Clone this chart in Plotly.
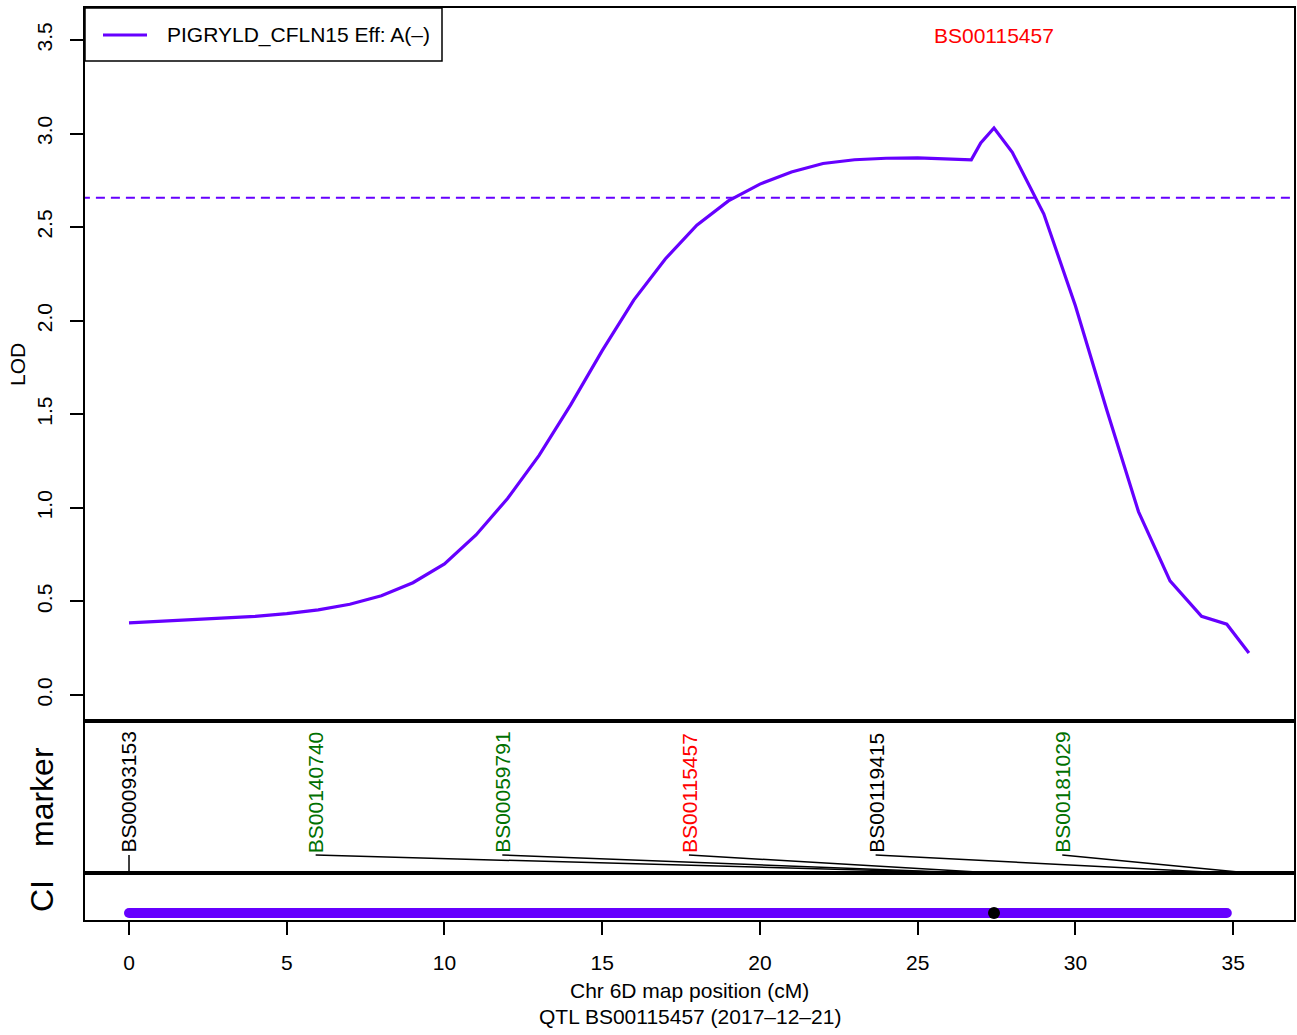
import numpy as np
import plotly.graph_objects as go

# ---------------- data ----------------
pos_cm = [0, 1, 2, 3, 4, 5, 6, 7, 8, 9, 10, 11, 12, 13, 14, 15, 16, 17, 18, 19,
          20, 21, 22, 23, 24, 25, 26, 26.7, 27.0, 27.42, 28, 29, 30, 31, 32, 33,
          34, 34.8, 35.5]
lod = [0.385, 0.393, 0.401, 0.41, 0.42, 0.435, 0.455, 0.485, 0.53, 0.60, 0.70,
       0.855, 1.05, 1.28, 1.55, 1.84, 2.11, 2.33, 2.51, 2.64, 2.73, 2.795, 2.84,
       2.86, 2.868, 2.87, 2.866, 2.86, 2.95, 3.03, 2.90, 2.57, 2.08, 1.52, 0.98,
       0.61, 0.42, 0.378, 0.224]
threshold = 2.657
trait_name = "PIGRYLD_CFLN15 Eff: A(\u2013)"

marker_names = ["BS00093153", "BS00140740", "BS00059791", "BS00115457",
                "BS00119415", "BS00181029"]
marker_pos = [0.0, 26.7, 26.7, 27.42, 34.8, 35.5]
marker_colors = ["black", "#007000", "#007000", "#FF0000", "black", "#007000"]

peak_marker = "BS00115457"
peak_pos = 27.42
ci_low, ci_high = 0.0, 34.8

x_ticks = [0, 5, 10, 15, 20, 25, 30, 35]
y_ticks = [0.0, 0.5, 1.0, 1.5, 2.0, 2.5, 3.0, 3.5]
x_title = "Chr 6D map position (cM)"
sub_title = "QTL BS00115457 (2017\u201312\u201321)"

PURPLE = "#6600FF"
FONT = "Liberation Sans, Arial, sans-serif"
FS = 21

# label positions evenly spread across the map length
span = max(pos_cm) - min(pos_cm)
label_pos = [min(pos_cm) + i * span / len(marker_names) for i in range(len(marker_names))]

fig = go.Figure()

# main LOD curve
fig.add_trace(go.Scatter(x=pos_cm, y=lod, mode="lines", name=trait_name,
                         showlegend=False,
                         line=dict(color=PURPLE, width=3.2), xaxis="x", yaxis="y"))
# threshold
fig.add_trace(go.Scatter(x=[-2, 40], y=[threshold, threshold], mode="lines",
                         showlegend=False, hoverinfo="skip",
                         line=dict(color=PURPLE, width=2, dash="9px,6px"),
                         xaxis="x", yaxis="y"))

# marker connector lines
label_base = 0.118
for nm, lp, mp in zip(marker_names, label_pos, marker_pos):
    fig.add_trace(go.Scatter(x=[lp, mp], y=[label_base, 0], mode="lines",
                             showlegend=False, hoverinfo="skip",
                             line=dict(color="black", width=1.5),
                             xaxis="x2", yaxis="y2"))

# CI bar
ci_y = 0.15
fig.add_trace(go.Scatter(x=[ci_low, ci_high], y=[ci_y, ci_y], mode="lines+markers",
                         showlegend=False, hoverinfo="skip",
                         line=dict(color=PURPLE, width=10),
                         marker=dict(color=PURPLE, size=10, line=dict(width=0)),
                         xaxis="x3", yaxis="y3"))
fig.add_trace(go.Scatter(x=[peak_pos], y=[ci_y], mode="markers",
                         showlegend=False, hoverinfo="skip",
                         marker=dict(color="black", size=12, line=dict(width=0)),
                         xaxis="x3", yaxis="y3"))

# plot area geometry (px)
L, R, T, B = 85, 3, 8, 115
W, H = 1297 - L - R, 1035 - T - B


def px(x):
    return (x - L) / W


def py(y):
    return (1035 - B - y) / H


annotations = []
for nm, lp, col in zip(marker_names, label_pos, marker_colors):
    annotations.append(dict(x=lp, y=label_base, xref="x2", yref="y2", text=nm,
                            textangle=-90, xanchor="center", yanchor="bottom",
                            showarrow=False, font=dict(color=col, size=FS, family=FONT)))
annotations.append(dict(x=peak_pos, y=3.525, xref="x", yref="y", text=peak_marker,
                        showarrow=False, xanchor="center", yanchor="middle",
                        font=dict(color="#FF0000", size=FS, family=FONT)))

# y titles for small panels
annotations.append(dict(x=px(42), y=py(797), xref="paper", yref="paper", text="marker",
                        textangle=-90, showarrow=False, xanchor="center", yanchor="middle",
                        font=dict(size=32, family=FONT, color="black")))
annotations.append(dict(x=px(42), y=py(896), xref="paper", yref="paper", text="CI",
                        textangle=-90, showarrow=False, xanchor="center", yanchor="middle",
                        font=dict(size=32, family=FONT, color="black")))
annotations.append(dict(x=px(17), y=py(365), xref="paper", yref="paper", text="LOD",
                        textangle=-90, showarrow=False, xanchor="center", yanchor="middle",
                        font=dict(size=FS, family=FONT, color="black")))
# bottom titles
annotations.append(dict(x=0.5, y=py(990), xref="paper", yref="paper", text=x_title,
                        showarrow=False, xanchor="center", yanchor="middle",
                        font=dict(size=FS, family=FONT, color="black")))
annotations.append(dict(x=0.5, y=py(1017), xref="paper", yref="paper", text=sub_title,
                        showarrow=False, xanchor="center", yanchor="middle",
                        font=dict(size=FS, family=FONT, color="black")))
# legend (drawn)
annotations.append(dict(x=px(165), y=py(35), xref="paper", yref="paper", text=trait_name,
                        showarrow=False, xanchor="left", yanchor="middle",
                        font=dict(size=FS, family=FONT, color="black")))

shapes = [
    dict(type="rect", xref="paper", yref="paper", x0=0, x1=px(442), y0=py(61), y1=1,
         line=dict(color="black", width=1.5), fillcolor="white", layer="above"),
    dict(type="line", xref="paper", yref="paper", x0=px(103), x1=px(147),
         y0=py(35), y1=py(35), line=dict(color=PURPLE, width=3.2), layer="above"),
]

xr = [-1.395, 36.93]
d_ci = [0, 47 / H]
d_mk = [47 / H, 199 / H]
d_main = [199 / H, 1]

common_x = dict(range=xr, showgrid=False, zeroline=False, showline=True, mirror=True,
                linecolor="black", linewidth=1.5, automargin=False)
common_y = dict(showgrid=False, zeroline=False, showline=True, mirror=True,
                linecolor="black", linewidth=1.5, automargin=False)

fig.update_layout(
    width=1297, height=1035,
    margin=dict(l=L, r=R, t=T, b=B, autoexpand=False),
    paper_bgcolor="white", plot_bgcolor="white",
    font=dict(family=FONT, size=FS, color="black"),
    showlegend=False,
    xaxis=dict(common_x, anchor="y", showticklabels=False, ticks=""),
    xaxis2=dict(common_x, anchor="y2", matches="x", showticklabels=False, ticks=""),
    xaxis3=dict(common_x, anchor="y3", matches="x", tickvals=x_ticks, ticks="outside",
                ticklen=13, tickwidth=1.5, tickcolor="black",
                tickfont=dict(size=FS, family=FONT), ticklabelstandoff=10),
    yaxis=dict(common_y, domain=d_main, anchor="x", range=[-0.139, 3.671],
               tickvals=y_ticks, tickformat=".1f", tickangle=-90, ticks="outside",
               ticklen=13, tickwidth=1.5, tickcolor="black", ticklabelstandoff=10,
               tickfont=dict(size=FS, family=FONT)),
    yaxis2=dict(common_y, domain=d_mk, anchor="x2", range=[0, 1],
                showticklabels=False, ticks=""),
    yaxis3=dict(common_y, domain=d_ci, anchor="x3", range=[0, 1],
                showticklabels=False, ticks=""),
    annotations=annotations,
    shapes=shapes,
)

fig.write_html("out.html",
               config={"displayModeBar": False},
               post_script="document.body.style.margin='0';"
                           "document.body.style.padding='0';"
                           "document.body.style.overflow='hidden';")
